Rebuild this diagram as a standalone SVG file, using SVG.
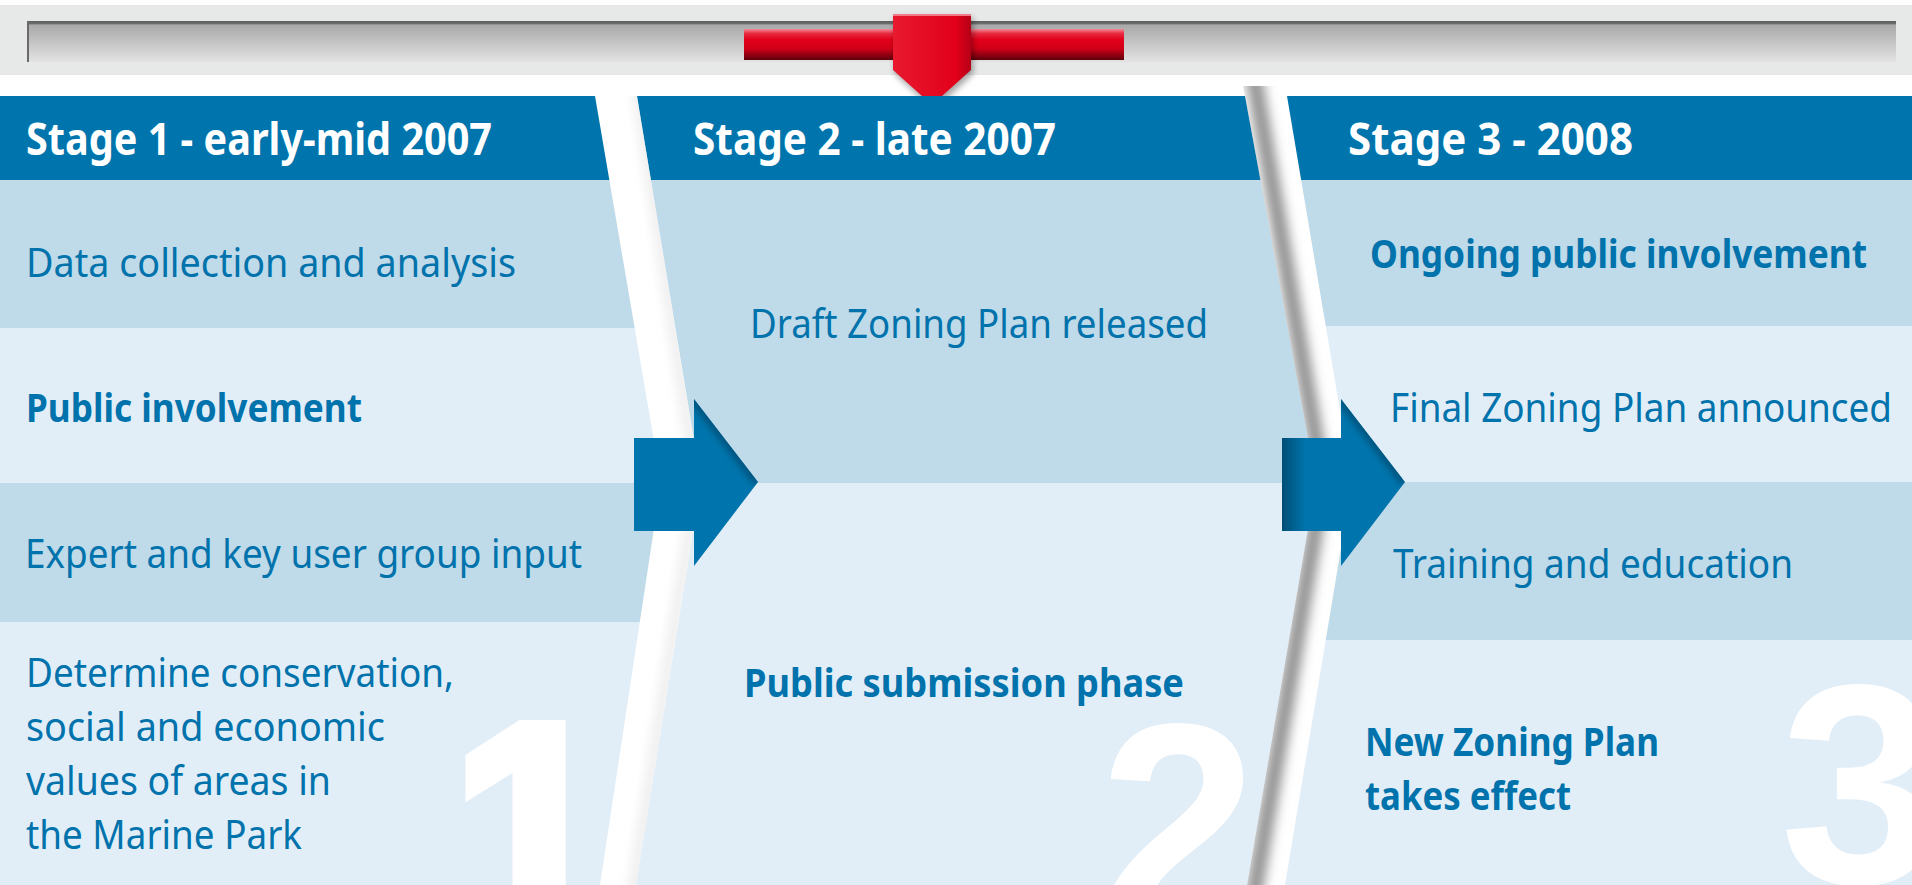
<svg xmlns="http://www.w3.org/2000/svg" width="1912" height="885" viewBox="0 0 1912 885">
  <style>
    .h { font-family: "Noto Sans", "Open Sans", sans-serif; font-weight: 700; font-size: 44px; fill: #ffffff; }
    .t { font-family: "Noto Sans", "Open Sans", sans-serif; font-weight: 400; font-size: 40px; fill: #0072ac; }
    .b { font-family: "Noto Sans", "Open Sans", sans-serif; font-weight: 700; font-size: 40px; fill: #0072ac; }
    .big { font-family: "Liberation Sans", Arial, sans-serif; font-weight: 700; font-size: 285px; fill: #ffffff; }
    .hdr { fill: #0075ad; }
    .dk { fill: #bfdae8; }
    .lt { fill: #e2eef7; }
    .arrow { fill: #0075ad; }
  </style>
  <defs>
    <linearGradient id="trackGrad" x1="0" y1="0" x2="0" y2="1">
      <stop offset="0" stop-color="#5e5e5e"/>
      <stop offset="0.06" stop-color="#6a6a6a"/>
      <stop offset="0.1" stop-color="#a9a9a9"/>
      <stop offset="1" stop-color="#e3e3e3"/>
    </linearGradient>
    <linearGradient id="redBar" x1="0" y1="0" x2="0" y2="1">
      <stop offset="0" stop-color="#f38c98"/>
      <stop offset="0.15" stop-color="#e8283e"/>
      <stop offset="0.35" stop-color="#e2001a"/>
      <stop offset="0.62" stop-color="#d40018"/>
      <stop offset="0.8" stop-color="#9c0012"/>
      <stop offset="1" stop-color="#5c000a"/>
    </linearGradient>
    <linearGradient id="redPtr" x1="0" y1="0" x2="1" y2="0">
      <stop offset="0" stop-color="#e8192f"/>
      <stop offset="0.8" stop-color="#e2001a"/>
      <stop offset="1" stop-color="#b50015"/>
    </linearGradient>
    <linearGradient id="arrow2Grad" gradientUnits="userSpaceOnUse" x1="1282" y1="0" x2="1306" y2="0">
      <stop offset="0" stop-color="#004e75"/>
      <stop offset="1" stop-color="#0075ad"/>
    </linearGradient>
    <filter id="blur6" x="-50%" y="-10%" width="200%" height="120%">
      <feGaussianBlur stdDeviation="6"/>
    </filter>
    <filter id="blur3" x="-50%" y="-50%" width="200%" height="200%">
      <feGaussianBlur stdDeviation="3"/>
    </filter>
    <clipPath id="col1"><path d="M0,96 L595,96 L661,482 L600,885 L0,885 Z"/></clipPath>
    <clipPath id="col2"><path d="M637,96 L1245,96 L1316,482 L1247,885 L636,885 L701,482 Z"/></clipPath>
    <clipPath id="col3"><path d="M1287,96 L1912,96 L1912,885 L1285,885 L1352,482 Z"/></clipPath>
    <clipPath id="gap1"><path d="M595,96 L637,96 L701,482 L636,885 L600,885 L661,482 Z"/></clipPath>
    <clipPath id="gap2"><path d="M1243,86 L1285,86 L1352,482 L1285,885 L1247,885 L1316,482 Z"/></clipPath>
    <clipPath id="arrow1Clip"><path d="M634,438 H694 V399 L758,482 L694,566 V531 H634 Z"/></clipPath>
    <clipPath id="arrow2Clip"><path d="M1282,438 H1341 V399 L1405,482 L1341,566 V531 H1282 Z"/></clipPath>
  </defs>

  <rect x="0" y="0" width="1912" height="885" fill="#ffffff"/>

  <!-- timeline track -->
  <g id="timeline">
    <rect x="0" y="5" width="1912" height="70" fill="#e7e9e9"/>
    <rect x="27" y="21" width="1869" height="41" fill="url(#trackGrad)"/>
    <rect x="27" y="21" width="2" height="41" fill="#6a6a6a"/>
    <rect x="744" y="29" width="380" height="31" fill="url(#redBar)"/>
    <path d="M895,18 L973,18 L973,74 L934,110 L895,74 Z" fill="#000000" opacity="0.35" filter="url(#blur3)"/>
    <path d="M893,14 L971,14 L971,70 L932,105 L893,70 Z" fill="url(#redPtr)"/>
    <path d="M893,14 L971,14 L971,16 L893,16 Z" fill="#f07a88"/>
  </g>

  <!-- Stage 1 -->
  <g id="stage1">
    <g clip-path="url(#col1)">
      <rect class="hdr" x="0" y="96" width="700" height="84"/>
      <rect class="dk" x="0" y="180" width="700" height="148"/>
      <rect class="lt" x="0" y="328" width="700" height="155"/>
      <rect class="dk" x="0" y="483" width="700" height="139"/>
      <rect class="lt" x="0" y="622" width="700" height="263"/>
      <text class="big" x="453" y="923" stroke="#ffffff" stroke-width="14">1</text>
    </g>
    <text class="h" x="26" y="155" textLength="466" lengthAdjust="spacingAndGlyphs">Stage 1 - early-mid 2007</text>
    <text class="t" x="26" y="277" textLength="490" lengthAdjust="spacingAndGlyphs">Data collection and analysis</text>
    <text class="b" x="26" y="422" textLength="336" lengthAdjust="spacingAndGlyphs">Public involvement</text>
    <text class="t" x="25" y="568" textLength="557" lengthAdjust="spacingAndGlyphs">Expert and key user group input</text>
    <text class="t" x="26" y="687" textLength="428" lengthAdjust="spacingAndGlyphs">Determine conservation,</text>
    <text class="t" x="26" y="741" textLength="359" lengthAdjust="spacingAndGlyphs">social and economic</text>
    <text class="t" x="26" y="795" textLength="305" lengthAdjust="spacingAndGlyphs">values of areas in</text>
    <text class="t" x="26" y="849" textLength="276" lengthAdjust="spacingAndGlyphs">the Marine Park</text>
  </g>

  <!-- Stage 2 -->
  <g id="stage2">
    <g clip-path="url(#col2)">
      <rect class="hdr" x="600" y="96" width="750" height="84"/>
      <rect class="dk" x="600" y="180" width="750" height="303"/>
      <rect class="lt" x="600" y="483" width="750" height="402"/>
      <text class="big" x="1099" y="922">2</text>
    </g>
    <text class="h" x="693" y="155" textLength="363" lengthAdjust="spacingAndGlyphs">Stage 2 - late 2007</text>
    <text class="t" x="750" y="338" textLength="458" lengthAdjust="spacingAndGlyphs">Draft Zoning Plan released</text>
    <text class="b" x="744" y="697" textLength="440" lengthAdjust="spacingAndGlyphs">Public submission phase</text>
  </g>

  <!-- Stage 3 -->
  <g id="stage3">
    <g clip-path="url(#col3)">
      <rect class="hdr" x="1250" y="96" width="662" height="84"/>
      <rect class="dk" x="1250" y="180" width="662" height="146"/>
      <rect class="lt" x="1250" y="326" width="662" height="156"/>
      <rect class="dk" x="1250" y="482" width="662" height="158"/>
      <rect class="lt" x="1250" y="640" width="662" height="245"/>
      <text class="big" x="1780" y="883">3</text>
    </g>
    <text class="h" x="1348" y="155" textLength="285" lengthAdjust="spacingAndGlyphs">Stage 3 - 2008</text>
    <text class="b" x="1370" y="268" textLength="497" lengthAdjust="spacingAndGlyphs">Ongoing public involvement</text>
    <text class="t" x="1390" y="422" textLength="502" lengthAdjust="spacingAndGlyphs">Final Zoning Plan announced</text>
    <text class="t" x="1393" y="578" textLength="400" lengthAdjust="spacingAndGlyphs">Training and education</text>
    <text class="b" x="1365" y="756" textLength="294" lengthAdjust="spacingAndGlyphs">New Zoning Plan</text>
    <text class="b" x="1365" y="810" textLength="206" lengthAdjust="spacingAndGlyphs">takes effect</text>
  </g>

  <!-- fold shading in the gaps -->
  <g id="gapShading">
    <g clip-path="url(#gap2)">
      <path d="M1251,60 L1323,482 L1253,900" fill="none" stroke="#8f8f8f" stroke-width="16" filter="url(#blur6)"/>
    </g>
    <g clip-path="url(#gap1)">
      <path d="M633,60 L697,482 L632,900" fill="none" stroke="#e6e6e6" stroke-width="8" filter="url(#blur6)"/>
    </g>
  </g>

  <!-- connectors -->
  <g id="connectors">
    <path class="arrow" d="M634,438 H694 V399 L758,482 L694,566 V531 H634 Z"/>
    <g clip-path="url(#arrow1Clip)">
      <path d="M690,394 L758,482" stroke="#003f60" stroke-width="10" opacity="0.6" filter="url(#blur3)"/>
    </g>
    <path d="M1282,438 H1341 V399 L1405,482 L1341,566 V531 H1282 Z" fill="url(#arrow2Grad)"/>
    <g clip-path="url(#arrow2Clip)">
      <path d="M1337,394 L1405,482" stroke="#003f60" stroke-width="10" opacity="0.6" filter="url(#blur3)"/>
    </g>
  </g>
</svg>
